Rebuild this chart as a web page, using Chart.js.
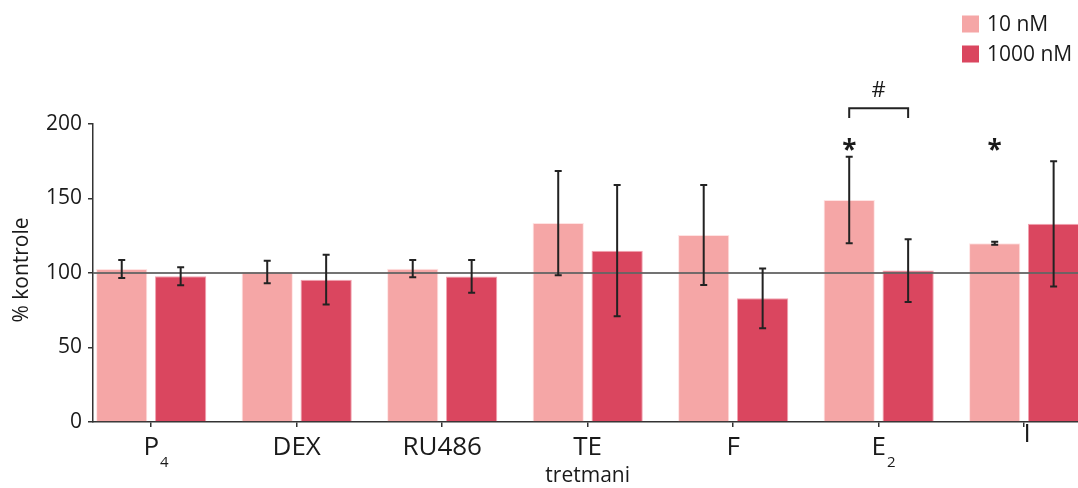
<!DOCTYPE html>
<html>
<head>
<meta charset="utf-8">
<script src="https://cdn.jsdelivr.net/npm/chart.js@4.4.1/dist/chart.umd.min.js"></script>
<style>
  html, body { margin: 0; padding: 0; background: #fff; overflow: hidden; }
  #wrap { position: relative; width: 1078px; height: 488px; }
</style>
</head>
<body>
<div id="wrap"><canvas id="c" width="1078" height="488"></canvas></div>
<script>
// Treatments (label text + subscript part)
const categories = ['P4', 'DEX', 'RU486', 'TE', 'F', 'E2', 'I'];
const labelBase = ['P', 'DEX', 'RU486', 'TE', 'F', 'E', 'I'];
const labelSub = ['4', '', '', '', '', '2', ''];

// % of control, mean and error
const low10 = [102.7, 100.7, 102.9, 133.5, 125.5, 149, 120];
const low10Err = [6, 7.5, 5.8, 35, 33.5, 29, 1];
const high1000 = [97.8, 95.5, 97.7, 115, 83, 101.6, 133];
const high1000Err = [6, 16.7, 11, 44, 20, 21, 42];

const seriesNames = ['10 nM', '1000 nM'];
const yTicks = [0, 50, 100, 150, 200];
const controlLevel = 100;

// significance marks: star above 10 nM bar of E2 and I, hash bracket for E2
const starCategories = [5, 6];
const starLevel = 186;
const hashCategory = 5;
const bracketTop = 210.5;
const bracketFoot = 204;
const hashLevel = 222;

const COL_LOW = 'rgb(245,166,166)';
const COL_HIGH = 'rgb(218,70,95)';
const FONT = '"Open Sans", "DejaVu Sans", sans-serif';
const INK = '#1a1a1a';

const errBars = {
  id: 'errBars',
  afterDatasetsDraw(chart) {
    const { ctx, chartArea, scales: { y } } = chart;
    // control reference line
    const yc = y.getPixelForValue(controlLevel);
    ctx.save();
    ctx.strokeStyle = 'rgba(100,100,100,0.9)';
    ctx.lineWidth = 2;
    ctx.beginPath();
    ctx.moveTo(chartArea.left, yc);
    ctx.lineTo(chartArea.right, yc);
    ctx.stroke();
    ctx.restore();

    const errs = [low10Err, high1000Err];
    ctx.save();
    ctx.strokeStyle = '#222';
    ctx.lineWidth = 2;
    chart.data.datasets.forEach((ds, di) => {
      const meta = chart.getDatasetMeta(di);
      meta.data.forEach((bar, i) => {
        const v = ds.data[i].y;
        const e = errs[di][i];
        const yt = y.getPixelForValue(v + e);
        const yb = y.getPixelForValue(v - e);
        const x = bar.x;
        ctx.beginPath();
        ctx.moveTo(x, yt); ctx.lineTo(x, yb);
        ctx.moveTo(x - 3.5, yt); ctx.lineTo(x + 3.5, yt);
        ctx.moveTo(x - 3.5, yb); ctx.lineTo(x + 3.5, yb);
        ctx.stroke();
      });
    });
    ctx.restore();
  },
  afterDraw(chart) {
    const { ctx, chartArea, scales: { x, y } } = chart;
    ctx.save();
    ctx.fillStyle = INK;
    ctx.textBaseline = 'middle';

    // category labels; the base text is centred, subscripts hang after it
    const mainFont = '26px ' + FONT;
    const subFont = '15px ' + FONT;
    categories.forEach((c, i) => {
      const cx = x.getPixelForValue(i);
      if (cx > chartArea.right) return;
      ctx.font = mainFont;
      const wMain = ctx.measureText(labelBase[i]).width;
      const start = cx - wMain / 2;
      ctx.textAlign = 'left';
      if (i === categories.length - 1) {
        // last label sits partly cut off by the plot edge, slightly raised
        ctx.fillText(labelBase[i], start + 3, 435);
        return;
      }
      ctx.fillText(labelBase[i], start, 448);
      if (labelSub[i]) {
        ctx.font = subFont;
        ctx.fillText(labelSub[i], start + wMain + 1, 463);
      }
    });

    // axis titles
    ctx.textAlign = 'center';
    ctx.font = '21px ' + FONT;
    ctx.fillText('tretmani', x.getPixelForValue(3), 476);
    ctx.save();
    ctx.translate(22, 270);
    ctx.rotate(-Math.PI / 2);
    ctx.fillText('% kontrole', 0, 0);
    ctx.restore();

    // legend
    const legendCols = [COL_LOW, COL_HIGH];
    ctx.textAlign = 'left';
    ctx.font = '21px ' + FONT;
    seriesNames.forEach((name, k) => {
      const ly = 24 + k * 30;
      ctx.fillStyle = legendCols[k];
      ctx.fillRect(962, ly - 8.5, 17, 17);
      ctx.fillStyle = INK;
      ctx.fillText(name, 987, ly + 1);
    });

    // significance marks
    const m0 = chart.getDatasetMeta(0);
    const m1 = chart.getDatasetMeta(1);
    ctx.textAlign = 'center';
    ctx.font = 'bold 26px ' + FONT;
    starCategories.forEach(i => {
      ctx.fillText('*', m0.data[i].x, y.getPixelForValue(starLevel) + 7);
    });
    const xa = m0.data[hashCategory].x;
    const xb = m1.data[hashCategory].x;
    const yt = y.getPixelForValue(bracketTop);
    const yf = y.getPixelForValue(bracketFoot);
    ctx.strokeStyle = '#222';
    ctx.lineWidth = 2;
    ctx.beginPath();
    ctx.moveTo(xa, yf); ctx.lineTo(xa, yt); ctx.lineTo(xb, yt); ctx.lineTo(xb, yf);
    ctx.stroke();
    ctx.font = '22px ' + FONT;
    ctx.fillText('#', (xa + xb) / 2, y.getPixelForValue(hashLevel));
    ctx.restore();
  }
};

const toPoints = arr => arr.map((v, i) => ({ x: i, y: v }));

new Chart(document.getElementById('c'), {
  type: 'bar',
  data: {
    datasets: [
      { label: seriesNames[0], data: toPoints(low10), backgroundColor: COL_LOW,
        borderColor: 'rgba(255,220,220,0.8)', borderWidth: 1 },
      { label: seriesNames[1], data: toPoints(high1000), backgroundColor: COL_HIGH,
        borderColor: 'rgba(238,140,158,0.8)', borderWidth: 1 }
    ]
  },
  plugins: [errBars],
  options: {
    responsive: false,
    animation: false,
    events: [],
    categoryPercentage: 0.81,
    barPercentage: 0.87,
    layout: { padding: { top: 124, right: 0, left: 0, bottom: 0 } },
    plugins: { legend: { display: false }, tooltip: { enabled: false } },
    scales: {
      x: {
        type: 'linear',
        min: -0.4,
        max: 6.37,
        offset: false,
        afterBuildTicks(scale) {
          scale.ticks = categories.slice(1).map((_, i) => ({ value: i + 0.5 }));
        },
        afterFit(scale) { scale.height = 66; },
        ticks: { display: false },
        grid: { drawOnChartArea: false, drawTicks: true, tickLength: 5, color: '#333', lineWidth: 1.5 },
        border: { display: true, color: '#333', width: 1.5 }
      },
      y: {
        min: 0,
        max: 200,
        afterBuildTicks(scale) { scale.ticks = yTicks.map(v => ({ value: v })); },
        afterFit(scale) { scale.width = 93; },
        ticks: { color: INK, font: { family: FONT, size: 21 }, padding: 6 },
        grid: { drawOnChartArea: false, drawTicks: true, tickLength: 5, color: '#333', lineWidth: 1.5 },
        border: { display: true, color: '#333', width: 1.5 }
      }
    }
  }
});
</script>
</body>
</html>
